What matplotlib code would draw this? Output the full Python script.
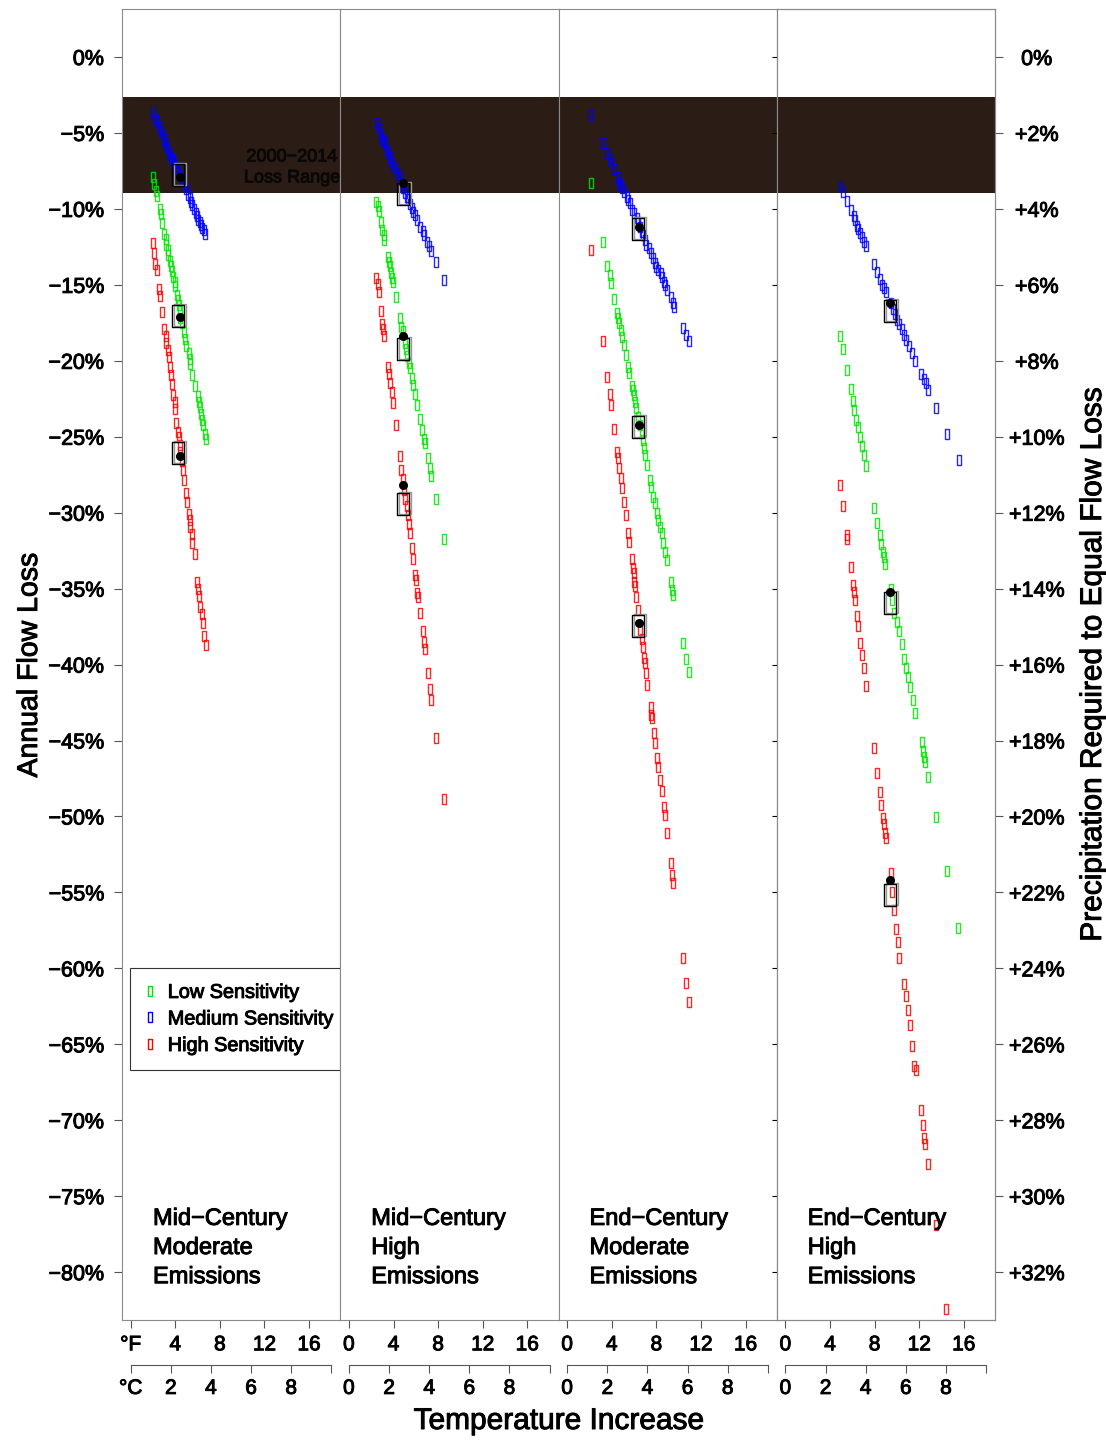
import matplotlib
matplotlib.use("Agg")
import matplotlib.pyplot as plt
import matplotlib.patheffects as pe
from matplotlib.path import Path
from matplotlib.lines import Line2D
from matplotlib.text import Text
from matplotlib.transforms import offset_copy

plt.rcParams['font.family'] = ['Liberation Sans', 'DejaVu Sans']

# ---- data: x = warming (deg F), y = annual flow loss (%) ----
# Mid-Century, Moderate Emissions
mcm_low_x = [2.02, 2.08, 2.26, 2.32, 2.62, 2.68, 2.85, 3.03, 3.15, 3.21, 3.33, 3.39, 3.51, 3.63, 3.75, 3.81, 3.93, 3.99, 4.16, 4.28,
             4.34, 4.40, 4.46, 4.58, 4.76, 4.88, 5.00, 5.23, 5.29, 5.35, 5.53, 5.77, 6.01, 6.13, 6.19, 6.31, 6.43, 6.48, 6.66, 6.72]
mcm_low_y = [-7.89, -8.36, -8.83, -9.13, -10.00, -10.35, -10.94, -11.65, -12.00, -12.35, -12.71, -13.06, -13.41, -13.76, -14.07,
             -14.47, -14.82, -15.06, -15.64, -16.00, -16.35, -16.70, -17.17, -17.53, -18.11, -18.58, -19.05, -19.52, -19.88,
             -20.23, -20.93, -21.64, -22.35, -22.70, -23.05, -23.52, -23.87, -24.23, -24.81, -25.17]
mcm_med_x = [2.02, 2.17, 2.32, 2.56, 2.68, 2.85, 2.97, 3.09, 3.21, 3.33, 3.45, 3.57, 3.69, 3.81, 3.93, 4.04, 4.16, 4.40, 4.64, 4.82,
             5.00, 5.18, 5.29, 5.41, 5.53, 5.68, 5.83, 5.95, 6.07, 6.19, 6.31, 6.43, 6.54, 6.69]
mcm_med_y = [-3.65, -4.01, -4.19, -4.59, -4.83, -5.06, -5.37, -5.60, -5.84, -6.12, -6.36, -6.54, -6.71, -6.87, -7.06, -7.30,
             -7.49, -7.77, -8.12, -8.36, -8.71, -9.06, -9.30, -9.53, -9.77, -10.00, -10.24, -10.47, -10.71, -10.89, -11.06,
             -11.25, -11.41, -11.65]
mcm_high_x = [1.96, 2.08, 2.20, 2.32, 2.56, 2.62, 2.85, 3.03, 3.15, 3.21, 3.33, 3.45, 3.51, 3.63, 3.75, 3.81, 3.93, 3.99, 4.10, 4.22,
              4.34, 4.40, 4.46, 4.58, 4.70, 4.82, 4.94, 5.06, 5.23, 5.29, 5.35, 5.47, 5.53, 5.77, 5.95, 6.07, 6.13, 6.25, 6.37,
              6.48, 6.60, 6.72]
mcm_high_y = [-12.24, -12.89, -13.65, -14.00, -15.29, -15.76, -16.82, -17.88, -18.35, -18.82, -19.29, -19.76, -20.42, -20.93,
              -21.52, -22.23, -22.70, -23.17, -24.11, -24.70, -25.05, -25.52, -25.99, -26.58, -27.17, -27.87, -28.69, -29.28,
              -30.10, -30.46, -30.93, -31.40, -31.99, -32.69, -34.57, -35.04, -35.51, -36.22, -36.69, -37.28, -38.10, -38.69]

# Mid-Century, High Emissions
mch_low_x = [2.46, 2.58, 2.67, 2.88, 3.00, 3.11, 3.17, 3.53, 3.59, 3.65, 3.77, 3.88, 3.94, 4.18, 4.54, 4.71, 4.83, 5.01, 5.13, 5.25,
             5.37, 5.48, 5.66, 5.72, 5.96, 6.14, 6.37, 6.55, 6.73, 6.79, 7.08, 7.26, 7.38, 7.80, 8.51]
mch_low_y = [-9.52, -9.82, -10.11, -10.85, -11.38, -11.73, -12.03, -13.20, -13.50, -13.79, -14.23, -14.53, -14.82, -15.79,
             -17.18, -17.77, -18.06, -18.80, -19.24, -19.68, -20.12, -20.50, -21.15, -21.59, -22.18, -22.92, -23.80, -24.54,
             -25.13, -25.42, -26.39, -27.04, -27.57, -29.10, -31.75]
mch_med_x = [2.52, 2.67, 2.88, 3.00, 3.11, 3.23, 3.41, 3.53, 3.65, 3.77, 3.94, 4.15, 4.30, 4.54, 4.65, 4.89, 5.04, 5.19, 5.34, 5.48,
             5.63, 5.78, 5.93, 6.14, 6.37, 6.61, 6.73, 6.97, 7.20, 7.32, 7.80, 8.54]
mch_med_y = [-4.37, -4.67, -5.11, -5.40, -5.55, -5.70, -6.14, -6.29, -6.58, -6.88, -7.17, -7.32, -7.61, -7.91, -8.20, -8.64,
             -8.94, -9.23, -9.38, -9.67, -9.97, -10.20, -10.41, -10.70, -11.20, -11.44, -11.73, -12.17, -12.47, -12.76,
             -13.50, -14.68]
mch_high_x = [2.46, 2.58, 2.67, 2.88, 3.00, 3.05, 3.17, 3.53, 3.59, 3.71, 3.83, 3.94, 4.18, 4.54, 4.71, 4.83, 4.95, 5.07, 5.19,
              5.31, 5.43, 5.48, 5.66, 5.72, 5.96, 6.02, 6.14, 6.20, 6.37, 6.61, 6.73, 6.79, 7.08, 7.26, 7.38, 7.80, 8.51]
mch_high_y = [-14.53, -14.97, -15.50, -16.74, -17.56, -17.91, -18.36, -20.42, -20.86, -21.45, -22.04, -22.77, -24.24, -26.30,
              -27.19, -27.78, -28.51, -29.10, -29.54, -30.13, -30.72, -31.31, -32.34, -33.07, -34.10, -34.40, -35.28, -35.58,
              -36.61, -37.79, -38.52, -38.96, -40.58, -41.61, -42.35, -44.85, -48.82]

# End-Century, Moderate Emissions
ecm_low_x = [2.13, 3.17, 3.61, 3.82, 3.94, 4.21, 4.50, 4.59, 4.68, 4.80, 4.89, 5.07, 5.24, 5.48, 5.57, 5.78, 5.87, 5.95, 6.07, 6.19,
             6.37, 6.55, 6.67, 6.81, 6.90, 7.02, 7.20, 7.44, 7.55, 7.73, 7.85, 8.03, 8.15, 8.33, 8.50, 8.62, 8.74, 8.95, 9.33,
             9.42, 9.51, 10.40, 10.70, 10.93]
ecm_low_y = [-8.27, -12.16, -13.74, -14.35, -14.90, -15.95, -16.87, -17.20, -17.53, -17.97, -18.45, -18.96, -19.62, -20.39,
             -20.78, -21.66, -21.92, -22.25, -22.69, -23.13, -23.68, -24.23, -24.66, -25.21, -25.76, -26.20, -26.86, -27.85,
             -28.29, -28.94, -29.38, -30.04, -30.48, -30.92, -31.36, -32.02, -32.56, -33.11, -34.54, -35.09, -35.42, -38.60,
             -39.66, -40.47]
ecm_med_x = [2.16, 3.23, 3.61, 3.82, 3.94, 4.24, 4.53, 4.65, 4.77, 4.95, 5.13, 5.33, 5.48, 5.63, 5.84, 6.01, 6.22, 6.31, 6.52, 6.67,
             6.81, 6.96, 7.11, 7.32, 7.55, 7.73, 7.85, 8.00, 8.15, 8.38, 8.50, 8.68, 8.80, 8.98, 9.33, 9.48, 9.54, 10.40, 10.70,
             10.93]
ecm_med_y = [-3.82, -5.64, -6.34, -6.67, -6.89, -7.39, -7.88, -8.21, -8.43, -8.65, -8.86, -9.19, -9.41, -9.63, -10.07, -10.29,
             -10.62, -10.84, -11.17, -11.50, -11.72, -12.05, -12.38, -12.59, -12.92, -13.25, -13.58, -13.80, -14.02, -14.24,
             -14.46, -14.79, -15.01, -15.34, -15.78, -16.22, -16.44, -17.86, -18.30, -18.67]
ecm_high_x = [2.13, 3.17, 3.61, 3.82, 3.94, 4.21, 4.50, 4.59, 4.68, 4.80, 4.89, 5.07, 5.24, 5.48, 5.57, 5.78, 5.87, 5.95, 6.01,
              6.10, 6.19, 6.37, 6.55, 6.67, 6.78, 6.90, 6.96, 7.05, 7.20, 7.50, 7.55, 7.61, 7.79, 7.91, 8.06, 8.15, 8.33, 8.50,
              8.65, 8.74, 8.95, 9.33, 9.42, 9.51, 10.40, 10.70, 10.93]
ecm_high_y = [-12.70, -18.67, -21.09, -22.18, -22.91, -24.51, -25.98, -26.42, -27.08, -27.74, -28.39, -29.27, -30.15, -31.36,
              -31.91, -33.07, -33.67, -34.00, -34.54, -34.83, -35.53, -36.41, -37.73, -38.34, -38.82, -39.59, -39.92, -40.54,
              -41.35, -42.77, -43.32, -43.54, -44.53, -45.19, -46.17, -46.72, -47.60, -48.30, -49.40, -49.90, -51.11, -53.09,
              -53.86, -54.40, -59.34, -60.94, -62.19]

# End-Century, High Emissions
ech_low_x = [4.89, 5.16, 5.52, 5.84, 6.05, 6.17, 6.37, 6.52, 6.70, 6.88, 7.06, 7.23, 7.97, 8.24, 8.48, 8.60, 8.77, 8.83, 8.95, 9.43,
             9.60, 9.78, 10.02, 10.20, 10.43, 10.67, 10.79, 10.97, 11.20, 11.41, 11.62, 12.21, 12.33, 12.39, 12.51, 12.80,
             13.52, 14.49, 15.50]
ech_low_y = [-18.36, -19.24, -20.61, -21.83, -22.68, -23.24, -23.90, -24.39, -25.05, -25.61, -26.17, -26.90, -29.68, -30.65,
             -31.46, -32.07, -32.56, -32.92, -33.41, -35.00, -35.73, -36.58, -37.19, -37.80, -38.65, -39.63, -40.24, -40.85,
             -41.46, -42.31, -43.16, -45.11, -45.69, -46.06, -46.42, -47.40, -50.03, -53.62, -57.35]
ech_med_x = [4.89, 5.19, 5.49, 5.87, 6.11, 6.23, 6.43, 6.52, 6.70, 6.88, 7.06, 7.23, 7.95, 8.24, 8.48, 8.66, 8.83, 9.01, 9.49, 9.66,
             9.84, 10.02, 10.20, 10.43, 10.67, 10.85, 11.09, 11.32, 11.62, 12.15, 12.39, 12.57, 12.80, 13.52, 14.49, 15.53]
ech_med_y = [-8.46, -8.90, -9.51, -10.07, -10.49, -10.73, -11.10, -11.34, -11.59, -11.83, -12.19, -12.44, -13.66, -14.15,
             -14.63, -15.00, -15.24, -15.49, -16.17, -16.58, -16.95, -17.32, -17.56, -17.93, -18.29, -18.66, -19.02, -19.51,
             -20.00, -20.85, -21.22, -21.46, -21.95, -23.12, -24.80, -26.51]
ech_high_x = [4.89, 5.16, 5.49, 5.52, 5.84, 6.05, 6.17, 6.23, 6.40, 6.52, 6.70, 6.88, 7.06, 7.23, 7.95, 8.24, 8.48, 8.60, 8.75,
              8.83, 8.95, 9.04, 9.43, 9.60, 9.78, 9.90, 10.08, 10.20, 10.67, 10.79, 10.97, 11.15, 11.32, 11.56, 11.68, 12.15,
              12.33, 12.45, 12.51, 12.80, 13.52, 14.40]
ech_high_y = [-28.17, -29.58, -31.46, -31.70, -33.58, -34.75, -35.24, -35.77, -36.82, -37.48, -38.60, -39.38, -40.24, -41.38,
              -45.48, -47.11, -48.37, -49.23, -50.08, -50.52, -51.06, -51.42, -53.69, -54.96, -56.18, -57.40, -58.25, -59.35,
              -61.05, -61.79, -62.76, -63.74, -65.08, -66.42, -66.66, -69.34, -70.32, -71.17, -71.54, -72.88, -76.90, -82.40]

# summary points per panel (black dot and black box)
dot_x = [4.40, 4.83, 6.43, 9.40]
dot_low_y = [-17.10, -18.35, -24.23, -35.22]
dot_med_y = [-7.89, -8.30, -11.19, -16.20]
dot_high_y = [-26.27, -28.20, -37.24, -54.15]
box_x = [4.22, 4.86, 6.32, 9.38]
box_low_y = [-17.02, -19.20, -24.36, -35.94]
box_med_y = [-7.80, -9.05, -11.32, -16.69]
box_high_y = [-26.07, -29.45, -37.43, -55.20]

loss_band = (-8.95, -2.63)   # 2000-2014 loss range
panel_titles = ['Mid\u2212Century\nModerate\nEmissions', 'Mid\u2212Century\nHigh\nEmissions',
                'End\u2212Century\nModerate\nEmissions', 'End\u2212Century\nHigh\nEmissions']
sens_labels = ['Low Sensitivity', 'Medium Sensitivity', 'High Sensitivity']
sens_colors = ['#00e600', '#0000ff', '#ff0000']
flow_ticks = list(range(0, -85, -5))
f_ticks = [0, 4, 8, 12, 16]
c_ticks = [0, 2, 4, 6, 8, 10]

panels = [
    [(mcm_low_x, mcm_low_y), (mcm_med_x, mcm_med_y), (mcm_high_x, mcm_high_y)],
    [(mch_low_x, mch_low_y), (mch_med_x, mch_med_y), (mch_high_x, mch_high_y)],
    [(ecm_low_x, ecm_low_y), (ecm_med_x, ecm_med_y), (ecm_high_x, ecm_high_y)],
    [(ech_low_x, ech_low_y), (ech_med_x, ech_med_y), (ech_high_x, ech_high_y)],
]

RECT = Path([(-0.5, -1), (0.5, -1), (0.5, 1), (-0.5, 1), (-0.5, -1)],
            [Path.MOVETO, Path.LINETO, Path.LINETO, Path.LINETO, Path.CLOSEPOLY])

FRAME = '#8a8a8a'
TICK = '#555555'

fig, axes = plt.subplots(1, 4, figsize=(11.06, 14.4), dpi=100, sharey=True,
                         gridspec_kw={'wspace': 0})
fig.subplots_adjust(left=122 / 1106, right=995 / 1106, bottom=120 / 1440, top=1431 / 1440)

for i, ax in enumerate(axes):
    ax.set_xlim(-0.78, 18.8)
    ax.set_ylim(-83.15, 3.16)
    ax.axhspan(*loss_band, color='#2b1d15', lw=0, zorder=0.5)

    for (x, y), c in zip(panels[i], sens_colors):
        ax.plot(x, y, ls='none', marker=RECT, ms=6.5, mfc='none', mec=c, mew=1.0, alpha=0.85, zorder=2)

    bx = [box_x[i]] * 3
    by = [box_low_y[i], box_med_y[i], box_high_y[i]]
    shifted = offset_copy(ax.transData, fig=fig, x=2, y=1, units='dots')
    ax.plot(bx, by, ls='none', marker=RECT, ms=16.5, mfc='none', mec='#999999', mew=1.0,
            transform=shifted, zorder=3)
    ax.plot(bx, by, ls='none', marker=RECT, ms=16.5, mfc='none', mec='black', mew=1.0, zorder=3)
    ax.plot([dot_x[i]] * 3, [dot_low_y[i], dot_med_y[i], dot_high_y[i]], ls='none', marker='o',
            ms=5.5, color='black', zorder=4)

    for sp in ax.spines.values():
        sp.set_color(FRAME)
        sp.set_linewidth(0.8)

    # Fahrenheit axis on the frame
    ax.set_xticks(f_ticks)
    ax.set_xticklabels(['\u00b0F' if i == 0 else '0'] + [str(t) for t in f_ticks[1:]])
    ax.tick_params(axis='x', direction='out', length=6, width=0.8, color=TICK, labelsize=15, pad=5)

    # Celsius axis below it
    sec = ax.secondary_xaxis(-45 / 1311, functions=(lambda f: f * 5 / 9, lambda c: c * 9 / 5))
    sec.set_xticks(c_ticks)
    sec.set_xticklabels(['\u00b0C' if i == 0 else '0', '2', '4', '6', '8', ''])
    sec.spines['bottom'].set_bounds(0, 10)
    sec.spines['bottom'].set_color(TICK)
    sec.spines['bottom'].set_linewidth(0.8)
    sec.tick_params(direction='out', length=6, width=0.8, color=TICK, labelsize=15, pad=4)

    ax.text(0.142, 0.0549, panel_titles[i], transform=ax.transAxes, ha='left', va='center',
            fontsize=17, linespacing=1.42, zorder=5)
    if i > 0:
        ax.tick_params(axis='y', left=False)

ax0 = axes[0]
ax0.set_yticks(flow_ticks)
ax0.set_yticklabels(['0%' if v == 0 else '\u2212%d%%' % -v for v in flow_ticks])
ax0.tick_params(axis='y', direction='out', length=6, width=0.8, color=TICK, labelsize=15.5, pad=7)

ax0.text(0.9989, -7.27, '2000\u22122014\nLoss Range', transform=ax0.get_yaxis_transform(),
         ha='right', va='center', ma='center', fontsize=13, color='#0a0806', linespacing=1.3, zorder=1)

handles = [Line2D([], [], ls='none', marker=RECT, ms=6.5, mfc='none', mec=c, mew=1.0) for c in sens_colors]
leg = ax0.legend(handles, sens_labels, loc='upper left', bbox_to_anchor=(0.0367, 0.2685, 0.9633, 0),
                 mode='expand', borderaxespad=0, fancybox=False, framealpha=1, edgecolor='#333333',
                 fontsize=14.3, borderpad=0.75, handlelength=0.5, handletextpad=0.65, labelspacing=0.38)
leg.get_frame().set_linewidth(0.8)
leg.set_zorder(6)

# precipitation axis on the right
axr = axes[3].twinx()
axr.set_ylim(axes[3].get_ylim())
axr.set_yticks(flow_ticks)
axr.set_yticklabels(['0%' if v == 0 else '+%d%%' % round(-v * 0.4) for v in flow_ticks])
axr.tick_params(axis='y', direction='out', length=6, width=0.8, color=TICK, labelsize=15.5, pad=24)
for lab in axr.get_yticklabels():
    lab.set_horizontalalignment('center')
for sp in axr.spines.values():
    sp.set_color(FRAME)
    sp.set_linewidth(0.8)

fig.text(30 / 1106, 1 - 665 / 1440, 'Annual Flow Loss', rotation=90, ha='center', va='center', fontsize=20.5)
fig.text(1093 / 1106, 1 - 664 / 1440, 'Precipitation Required to Equal Flow Loss', rotation=90,
         ha='center', va='center', fontsize=21.5)
fig.text(559 / 1106, 1 - 1421 / 1440, 'Temperature Increase', ha='center', va='center', fontsize=21.5)

# the source rendering has heavier strokes on its lettering
for t in fig.findobj(Text):
    t.set_path_effects([pe.withStroke(linewidth=0.7, foreground=t.get_color())])

fig.savefig('out.png', dpi=100)
